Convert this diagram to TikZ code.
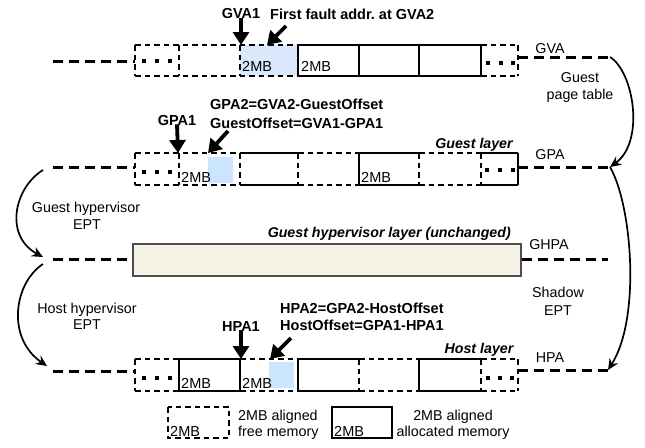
\documentclass[tikz,border=0pt]{standalone}
\usepackage{fontspec}
\setmainfont{Liberation Sans}
\usetikzlibrary{arrows.meta}
\definecolor{faultblue}{HTML}{DAE8FC}
\definecolor{pageblue}{HTML}{CCE5FF}
\definecolor{ghfill}{HTML}{F6F2E6}
\definecolor{ghedge}{HTML}{4D4D4D}

\begin{document}
\begin{tikzpicture}[x=1pt,y=-1pt,
  lbl/.style={font=\fontsize{14.3}{17}\selectfont, inner sep=0pt},
  blbl/.style={font=\bfseries\fontsize{14.5}{17}\selectfont, inner sep=0pt},
  bilbl/.style={font=\bfseries\itshape\fontsize{14.2}{17}\selectfont, inner sep=0pt},
  mbl/.style={font=\fontsize{14.5}{17}\selectfont, inner sep=0pt, anchor=base west},
  freeedge/.style={line width=1.4pt, dash pattern=on 5.5pt off 4pt},
  usededge/.style={line width=1.5pt},
  busline/.style={line width=3pt, dash pattern=on 10pt off 6pt},
  mapcurve/.style={line width=1.7pt, -{Stealth[length=11pt,width=10pt]}},
  pointer/.style={line width=3.8pt, -{Triangle[length=13pt,width=16pt]}}
]
\useasboundingbox (0,0) rectangle (645,447);

% ---------- highlighted 2MB regions ----------
\fill[faultblue] (240,45) rectangle (298,76);
\fill[pageblue] (208,157) rectangle (233,183);
\fill[pageblue] (269,362) rectangle (294,388);

% ---------- GVA row (top 45, bottom 76) ----------
\foreach \a/\b in {135/298, 481/518} \draw[freeedge] (\a,45) -- (\b,45) (\a,76) -- (\b,76);
\draw[usededge] (298,45) -- (481,45) (298,76) -- (481,76);
\foreach \x in {135,179,240,518} \draw[freeedge] (\x,45) -- (\x,76);
\foreach \x in {298,359,419,481} \draw[usededge] (\x,45) -- (\x,76);

% ---------- GPA row (top 153, bottom 185) ----------
\foreach \a/\b in {135/240, 298/359, 419/481} \draw[freeedge] (\a,153) -- (\b,153) (\a,185) -- (\b,185);
\foreach \a/\b in {240/298, 359/419, 481/518} \draw[usededge] (\a,153) -- (\b,153) (\a,185) -- (\b,185);
\foreach \x in {135,179,240,298,419,481} \draw[freeedge] (\x,153) -- (\x,185);
\foreach \x in {359,518} \draw[usededge] (\x,153) -- (\x,185);

% ---------- HPA row (top 359, bottom 391) ----------
\foreach \a/\b in {135/179, 240/298, 359/419, 481/518} \draw[freeedge] (\a,359) -- (\b,359) (\a,391) -- (\b,391);
\foreach \a/\b in {179/240, 298/359, 419/481} \draw[usededge] (\a,359) -- (\b,359) (\a,391) -- (\b,391);
\foreach \x in {135,359,481,518} \draw[freeedge] (\x,359) -- (\x,391);
\foreach \x in {179,240,298,419} \draw[usededge] (\x,359) -- (\x,391);

% ---------- ellipsis dots in the end cells ----------
\foreach \x/\y in {144/61,157/61,170/61, 488/63,501/63,513/63,
                   144/172,157/172,170/172, 487/170,500/170,513/170,
                   144/378,157/378,170/378, 488/378,500/378,512/378}
  \fill (\x-1.6,\y-1.6) rectangle (\x+1.6,\y+1.6);

% ---------- guest hypervisor layer ----------
\node[draw=ghedge, fill=ghfill, line width=1.5pt, minimum width=388pt, minimum height=32pt,
      inner sep=0pt, anchor=north west] (ghbox) at (132,243) {};

% ---------- address-space lines ----------
\coordinate (gvaW) at (53,61);   \coordinate (gvaBoxW) at (135,61);
\coordinate (gvaBoxE) at (518,57); \coordinate (gvaE) at (610,57);
\coordinate (gpaW) at (53,167);  \coordinate (gpaBoxW) at (135,167);
\coordinate (gpaBoxE) at (518,167); \coordinate (gpaE) at (610,167);
\coordinate (ghpaW) at (53,259);  \coordinate (ghpaE) at (608,259);
\coordinate (hpaW) at (53,371);  \coordinate (hpaBoxW) at (135,371);
\coordinate (hpaBoxE) at (518,370); \coordinate (hpaE) at (608,370);

\draw[busline] (gvaW) -- (gvaBoxW);  \draw[busline] (gvaBoxE) -- (gvaE);
\draw[busline] (gpaW) -- (gpaBoxW);  \draw[busline] (gpaBoxE) -- (gpaE);
\draw[busline] (ghpaW) -- (ghbox.west |- ghpaW); \draw[busline] (ghbox.east |- ghpaE) -- (ghpaE);
\draw[busline] (hpaW) -- (hpaBoxW);  \draw[busline] (hpaBoxE) -- (hpaE);

% ---------- translation curves ----------
\coordinate (gpaC) at (43,170);  \coordinate (ghpaC) at (43,257);
\coordinate (ghpaD) at (43,264); \coordinate (hpaC) at (47,366);
\draw[mapcurve] (gvaE) .. controls (634,72) and (645,142) .. (gpaE);
\draw[mapcurve] (gpaE) .. controls (632,205) and (641,318) .. (hpaE);
\draw[mapcurve] (gpaC) .. controls (14,188) and (4,236) .. (ghpaC);
\draw[mapcurve] (ghpaD) .. controls (14,283) and (6,338) .. (hpaC);

% ---------- labels ----------
\node[blbl, anchor=base] (gva1) at (241,19) {GVA1};
\node[blbl, anchor=base west] (fault) at (270,19.5) {First fault addr.\ at GVA2};
\node[lbl, anchor=base] (gvaName) at (550,53) {GVA};
\node[lbl, anchor=base] (gptA) at (580,82) {Guest};
\node[lbl, anchor=base] (gptB) at (580,99) {page table};

\node[blbl, anchor=base west] (gpa2eq) at (210,109.5) {GPA2=GVA2-GuestOffset};
\node[blbl, anchor=base west] (goffeq) at (210,128) {GuestOffset=GVA1-GPA1};
\node[blbl, anchor=base] (gpa1) at (177,125) {GPA1};
\node[bilbl, anchor=base] (glayer) at (474,148) {Guest layer};
\node[lbl, anchor=base] (gpaName) at (550,159) {GPA};

\node[lbl, anchor=base] (gheptA) at (86,212) {Guest hypervisor};
\node[lbl, anchor=base] (gheptB) at (87,229) {EPT};
\node[bilbl, anchor=base east] (ghlayer) at (511,237) {Guest hypervisor layer (unchanged)};
\node[lbl, anchor=base] (ghpaName) at (549,249) {GHPA};

\node[lbl, anchor=base] (shA) at (558,297) {Shadow};
\node[lbl, anchor=base] (shB) at (558,315) {EPT};
\node[lbl, anchor=base] (hheptA) at (87,313) {Host hypervisor};
\node[lbl, anchor=base] (hheptB) at (87,329) {EPT};

\node[blbl, anchor=base west] (hpa2eq) at (280,313) {HPA2=GPA2-HostOffset};
\node[blbl, anchor=base west] (hoffeq) at (280,330) {HostOffset=GPA1-HPA1};
\node[blbl, anchor=base] (hpa1) at (241,331) {HPA1};
\node[bilbl, anchor=base] (hlayer) at (479,353) {Host layer};
\node[lbl, anchor=base] (hpaName) at (550,362) {HPA};

% 2MB cell captions
\node[mbl] (gvaM1) at (242,71) {2MB};
\node[mbl] (gvaM2) at (301,71) {2MB};
\node[mbl] (gpaM1) at (181,182) {2MB};
\node[mbl] (gpaM2) at (361,182) {2MB};
\node[mbl] (hpaM1) at (181,388) {2MB};
\node[mbl] (hpaM2) at (242,388) {2MB};

% ---------- pointers ----------
\coordinate (gva1Tip) at (241,45);
\coordinate (faultTail) at (286,26);  \coordinate (faultTip) at (267,45);
\coordinate (gpa1Tip) at (178,153);
\coordinate (gpa2Tail) at (228,131); \coordinate (gpa2Tip) at (208,153);
\coordinate (hpa1Tip) at (241,359);
\coordinate (hpa2Tail) at (291,338); \coordinate (hpa2Tip) at (270,359);
\draw[pointer] ([yshift=1pt]gva1.south) -- (gva1Tip);
\draw[pointer] (faultTail) -- (faultTip);
\draw[pointer] ([yshift=1pt]gpa1.south) -- (gpa1Tip);
\draw[pointer] (gpa2Tail) -- (gpa2Tip);
\draw[pointer] ([yshift=1pt]hpa1.south) -- (hpa1Tip);
\draw[pointer] (hpa2Tail) -- (hpa2Tip);

% ---------- legend ----------
\draw[freeedge] (168,407) rectangle (229,438);
\node[mbl] (legFreeM) at (170,436) {2MB};
\node[lbl, anchor=base west] (legFreeA) at (238,420) {2MB aligned};
\node[lbl, anchor=base west] (legFreeB) at (238,436) {free memory};
\draw[usededge] (332,407) rectangle (392,438);
\node[mbl] (legUsedM) at (334,436) {2MB};
\node[lbl, anchor=base] (legUsedA) at (453,420) {2MB aligned};
\node[lbl, anchor=base] (legUsedB) at (453,436) {allocated memory};
\end{tikzpicture}
\end{document}
